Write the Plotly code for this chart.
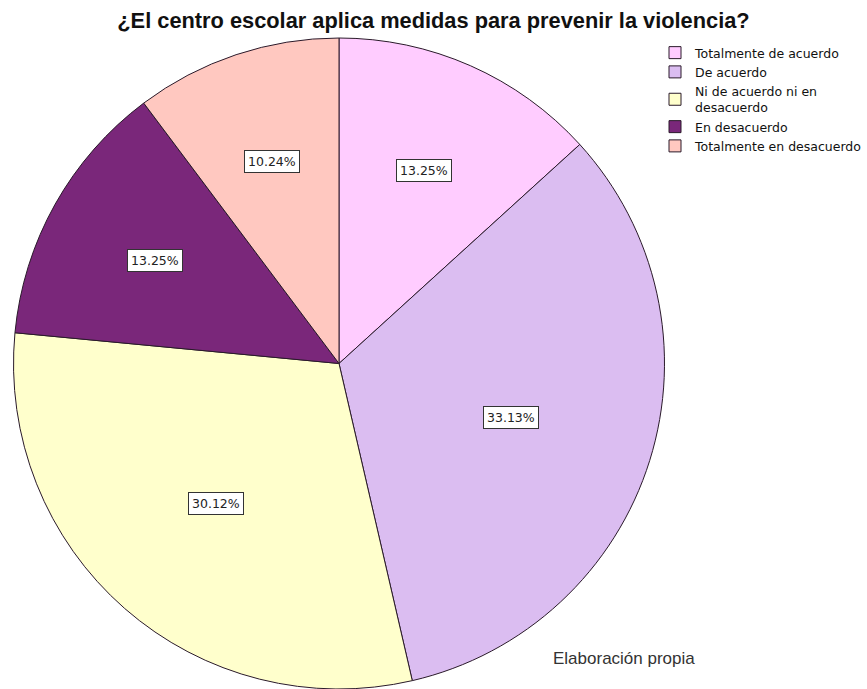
import math
import plotly.graph_objects as go

categories = ["Totalmente de acuerdo", "De acuerdo", "Ni de acuerdo ni en<br>desacuerdo",
              "En desacuerdo", "Totalmente en desacuerdo"]
counts = [22, 55, 50, 22, 17]
colors = ["#FFCCFF", "#DBBDF1", "#FFFFCC", "#7A277A", "#FFC8C0"]

W, H = 867, 689
ml, mr, mt, mb = 12, 201, 38, 0

fig = go.Figure(go.Pie(
    labels=categories, values=counts, sort=False, direction="clockwise", rotation=0,
    marker=dict(colors=colors, line=dict(color="#2a1a2a", width=1)),
    textinfo="none", hoverinfo="label+percent",
))

# percentage boxes placed at each slice's area centroid
pw, ph = W - ml - mr, H - mt - mb
R = min(pw, ph) / 2
total = sum(counts)
cum = 0
annotations = []
for v in counts:
    half = v / total * math.pi
    mid = (cum + v / 2) / total * 2 * math.pi
    cum += v
    rf = 2 / 3 * math.sin(half) / half
    x = 0.5 + rf * R * math.sin(mid) / pw
    y = 0.5 + rf * R * math.cos(mid) / ph
    annotations.append(dict(
        x=x, y=y, xref="paper", yref="paper", xanchor="center", yanchor="middle",
        text=f"{v / total * 100:.2f}%",
        showarrow=False, bgcolor="white", bordercolor="#333333", borderwidth=1, borderpad=3,
        font=dict(family="DejaVu Sans", size=12.5, color="#222222"),
    ))
annotations.append(dict(
    x=(697 - ml) / pw, y=(H - 658 - mb) / ph, xref="paper", yref="paper",
    xanchor="right", yanchor="middle",
    text="Elaboración propia", showarrow=False,
    font=dict(family="Liberation Sans, Arial", size=17, color="#333333"),
))

fig.update_layout(
    width=W, height=H,
    margin=dict(l=ml, r=mr, t=mt, b=mb),
    paper_bgcolor="white", plot_bgcolor="white",
    title=dict(text="<b>¿El centro escolar aplica medidas para prevenir la violencia?</b>",
               x=0.5, xanchor="center", y=1 - 20 / H, yanchor="middle",
               font=dict(family="Liberation Sans, Arial", size=21.8, color="#111111")),
    legend=dict(x=(655 - ml) / pw, y=1.0, xref="paper", yref="paper",
                xanchor="left", yanchor="top", traceorder="normal",
                font=dict(family="DejaVu Sans", size=12.5, color="#111111"),
                itemwidth=30, tracegroupgap=0, bgcolor="rgba(0,0,0,0)"),
    annotations=annotations,
)

fig.write_html("out.html", config={"displayModeBar": False},
               post_script="document.body.style.margin='0';")
